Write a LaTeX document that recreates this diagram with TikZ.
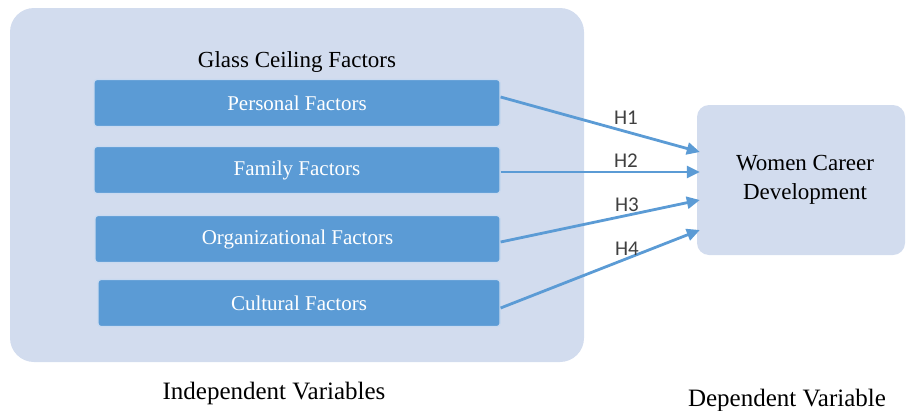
\documentclass[tikz,border=0pt]{standalone}
\usepackage{fontspec}
\setmainfont{Liberation Serif}
\newfontfamily\hypfont{Carlito}
\usetikzlibrary{arrows.meta,calc}

\definecolor{panelblue}{HTML}{D2DCEE}
\definecolor{factorblue}{HTML}{5B9BD5}
\definecolor{edgeblue}{HTML}{C9DAF0}
\definecolor{hypgray}{HTML}{404040}

\begin{document}
\begin{tikzpicture}[x=1pt,y=-1pt,
    panel/.style={rectangle,fill=panelblue,rounded corners=24pt,inner sep=0pt},
    box/.style={rectangle,fill=factorblue,draw=edgeblue,line width=1.2pt,rounded corners=3pt,
        minimum height=47pt,inner sep=0pt,text=white,font=\fontsize{21}{24}\selectfont},
    arrow/.style={-{Triangle[length=13pt,width=12pt]},line width=2.8pt,draw=factorblue},
    hyp/.style={text=hypgray,font=\hypfont\fontsize{21}{22}\selectfont}
]

\useasboundingbox (0,0) rectangle (907,410);

% Independent side
\node[panel,minimum width=574pt,minimum height=354pt] (indep) at (297,185) {};
\node[font=\fontsize{23}{26}\selectfont] (title) at (297,62) {Glass Ceiling Factors};

\node[box,minimum width=406pt] (personal) at (297,103) {Personal Factors};
\node[box,minimum width=406pt] (family) at (297,170) {Family Factors};
\node[box,minimum width=405pt] (organizational) at (297.5,239) {Organizational Factors};
\node[box,minimum width=402pt] (cultural) at (299,303) {Cultural Factors};

% Dependent side
\node[panel,rounded corners=12pt,minimum width=208pt,minimum height=150pt,
    align=center,font=\fontsize{23}{29}\selectfont] (career) at (801,180)
    {\hspace*{8pt}Women Career\\\hspace*{8pt}Development};

% Hypotheses
\draw[arrow] ($(personal.east)+(0,-6)$) -- ($(career.west)+(3,-28)$);
\draw[arrow] ($(family.east)+(0,2)$) -- ($(career.west)+(3,-8)$);
\draw[arrow] ($(organizational.east)+(0,3)$) -- ($(career.west)+(3,20)$);
\draw[arrow] ($(cultural.east)+(0,5)$) -- ($(career.west)+(3,50)$);

\node[hyp] (h1) at (626,118) {H1};
\node[hyp] (h2) at (626,161) {H2};
\node[hyp] (h3) at (627,205) {H3};
\node[hyp] (h4) at (627,249) {H4};

% Captions
\node[font=\fontsize{25}{28}\selectfont] (indeplabel) at (274,393) {Independent Variables};
\node[font=\fontsize{25}{28}\selectfont] (deplabel) at (787,400) {Dependent Variable};

\end{tikzpicture}
\end{document}
